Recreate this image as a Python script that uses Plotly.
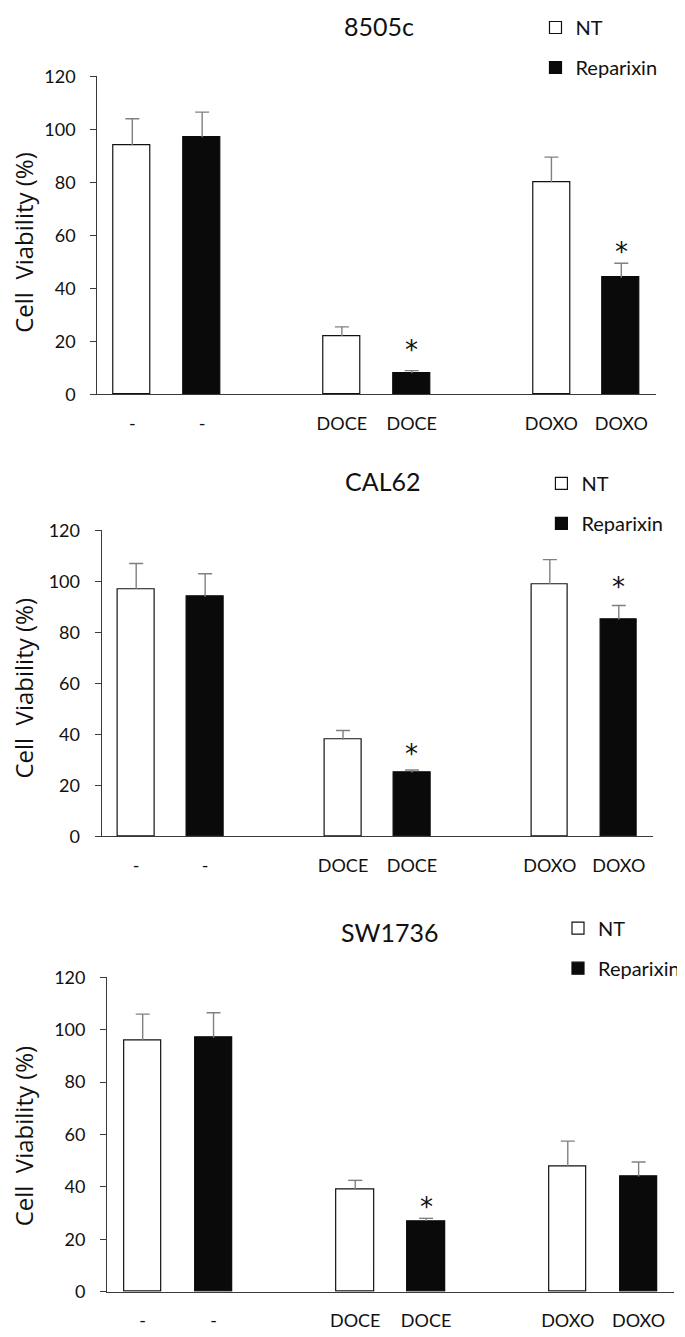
import plotly.graph_objects as go

# Cell viability (%) per cell line; bars at slots 0,1 (-), 3,4 (DOCE), 6,7 (DOXO)
panels = ["8505c", "CAL62", "SW1736"]
tick_pos = [0, 1, 3, 4, 6, 7]
tick_text = ["-", "-", "DOCE", "DOCE", "DOXO", "DOXO"]
nt_pos = [0, 3, 6]
rep_pos = [1, 4, 7]

nt_vals = [[94, 22, 80], [97, 38, 99], [96, 39, 48]]
nt_err = [[10, 3.5, 9.5], [10, 3.5, 9.5], [10, 3.5, 9.5]]
rep_vals = [[97, 8, 44], [94, 25, 85], [97, 27, 44]]
rep_err = [[9.5, 1, 5.5], [9, 1, 5.5], [9.5, 1, 5.5]]

# significance marks (x slot, y)
sig_x = [[4, 7], [4, 7], [4]]
sig_y = [[19.5, 56.5], [35, 100.5], [35]]

PAGE_W, PAGE_H = 685, 1337
OFF = 8  # default body margin of the html page
W, H = PAGE_W - OFF, PAGE_H - OFF


def fx(px):
    return (px - OFF) / W


def fy(py):
    return 1 - (py - OFF) / H


# pixel geometry of each panel on the page: x-left, x-right, y of 0, y of 120
geo = [(98.3, 663, 387.3, 63.3), (102.7, 660, 837.3, 525.7), (108.3, 681, 1301, 981)]
title_pos = [(383, 12.5), (386, 475), (393, 935)]
legend_pos = [(561, 11.7), (567, 476), (584, 929)]   # centre of first swatch
ytitle_pos = [(24, 232), (24, 686), (24, 1142)]

TXT = "#111111"
AX = "#3a3a3a"
ERR = "#808080"

fig = go.Figure()
annotations = []
layout = dict(width=W, height=H, margin=dict(l=0, r=0, t=0, b=0),
              paper_bgcolor="white", plot_bgcolor="white", bargap=0)

for i, name in enumerate(panels):
    k = "" if i == 0 else str(i + 1)
    lg = "legend" + k
    fig.add_trace(go.Bar(
        x=nt_pos, y=nt_vals[i], width=0.53, name="NT",
        marker=dict(color="white", line=dict(color="#111111", width=1.2)),
        error_y=dict(type="data", array=nt_err[i], arrayminus=[0] * 3, symmetric=False,
                     color=ERR, thickness=1.4, width=0),
        xaxis="x" + k, yaxis="y" + k, legend=lg, legendgroup="nt" + k,
    ))
    fig.add_trace(go.Bar(
        x=rep_pos, y=rep_vals[i], width=0.53, name="Reparixin",
        marker=dict(color="#0a0a0a", line=dict(color="#0a0a0a", width=1.2)),
        error_y=dict(type="data", array=rep_err[i], arrayminus=[0] * 3, symmetric=False,
                     color=ERR, thickness=1.4, width=0),
        xaxis="x" + k, yaxis="y" + k, legend=lg, legendgroup="rep" + k,
    ))
    # caps on the upper end of the error bars only
    cap_x = nt_pos + rep_pos
    cap_y = [v + e for v, e in zip(nt_vals[i], nt_err[i])] + \
            [v + e for v, e in zip(rep_vals[i], rep_err[i])]
    fig.add_trace(go.Scatter(
        x=cap_x, y=cap_y, mode="markers", showlegend=False, hoverinfo="skip",
        marker=dict(symbol="line-ew", size=10, line=dict(color=ERR, width=1.4)),
        xaxis="x" + k, yaxis="y" + k,
    ))

    xl, xr, y0, y120 = geo[i]
    layout["xaxis" + k] = dict(
        domain=[fx(xl), fx(xr)], range=[-0.5, 7.5], anchor="y" + k,
        tickvals=tick_pos, ticktext=tick_text, ticks="", showgrid=False, zeroline=False,
        showline=True, linecolor=AX, linewidth=1.3,
        tickfont=dict(family="Lato", size=18, color=TXT), ticklabelstandoff=13,
    )
    layout["yaxis" + k] = dict(
        domain=[fy(y0), fy(y120)], range=[0, 120], anchor="x" + k,
        tickvals=[0, 20, 40, 60, 80, 100, 120], ticks="outside", ticklen=6,
        tickcolor=AX, tickwidth=1.3, showgrid=False, zeroline=False,
        showline=True, linecolor=AX, linewidth=1.3,
        tickfont=dict(family="Lato", size=18, color=TXT), ticklabelstandoff=11,
    )
    lx, ly = legend_pos[i]
    layout[lg] = dict(
        x=fx(lx - 20), y=fy(ly - 18), xanchor="left", yanchor="top",
        traceorder="grouped", tracegroupgap=11, bgcolor="rgba(0,0,0,0)",
        font=dict(family="Lato", size=20, color=TXT),
    )

    tx, ty = title_pos[i]
    annotations.append(dict(text=name, x=fx(tx), y=fy(ty), xref="paper", yref="paper",
                            xanchor="center", yanchor="middle", showarrow=False,
                            font=dict(family="Lato", size=25, color=TXT)))
    yx, yy = ytitle_pos[i]
    annotations.append(dict(text="Cell  Viability (%)", x=fx(yx), y=fy(yy),
                            xref="paper", yref="paper", xanchor="center", yanchor="middle",
                            textangle=-90, showarrow=False,
                            font=dict(family="Open Sans", size=24, color=TXT)))
    for sx, sy in zip(sig_x[i], sig_y[i]):
        annotations.append(dict(text="*", x=sx, y=sy, xref="x" + k, yref="y" + k,
                                xanchor="center", yanchor="middle",
                                showarrow=False, yshift=-7,
                                font=dict(family="DejaVu Sans", size=26, color=TXT)))

layout["annotations"] = annotations
fig.update_layout(**layout)
fig.write_html("out.html")
